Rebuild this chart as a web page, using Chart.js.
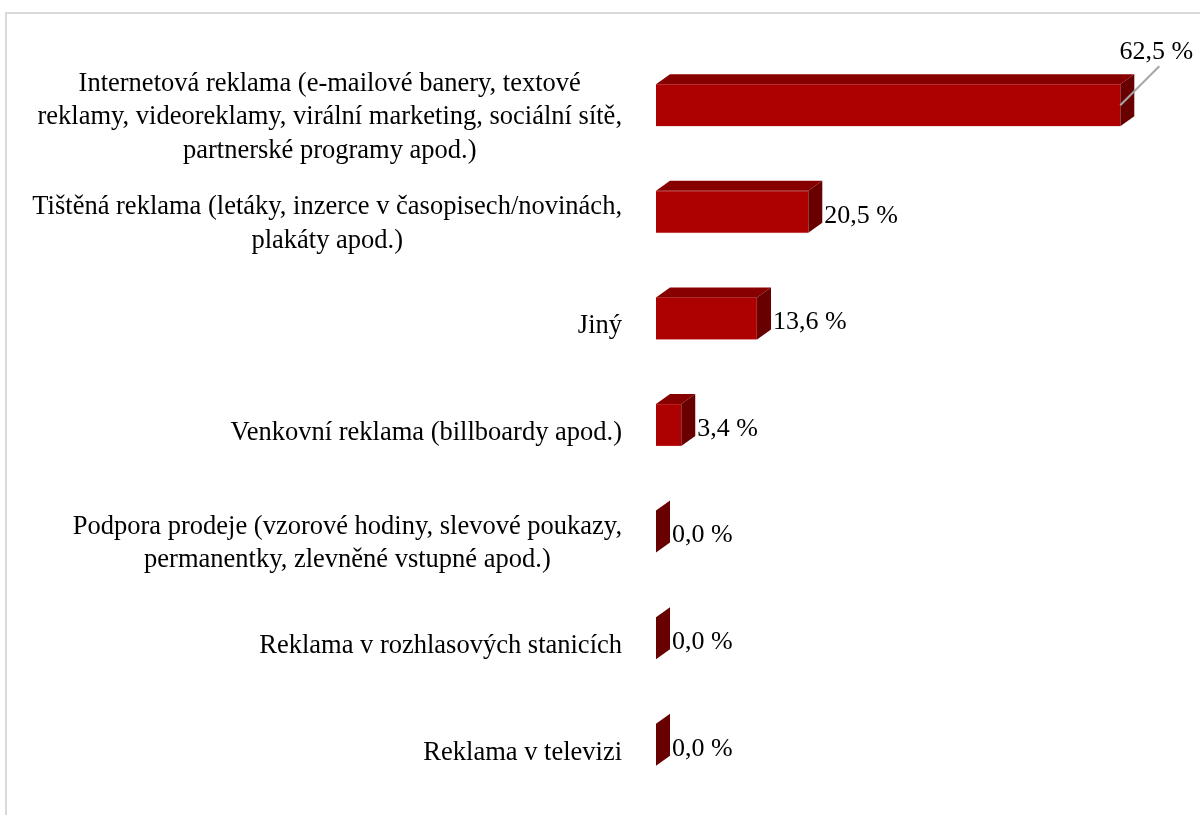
<!DOCTYPE html>
<html>
<head>
<meta charset="utf-8">
<script src="https://cdn.jsdelivr.net/npm/chart.js@4.4.1/dist/chart.umd.min.js"></script>
<style>
  html, body { margin: 0; padding: 0; background: #ffffff; overflow: hidden; }
  #frame {
    position: absolute; left: 5px; top: 12px; width: 1300px; height: 900px;
    border: 2px solid #d9d9d9; box-sizing: border-box;
  }
  #wrap { position: absolute; left: 0; top: 0; width: 1200px; height: 815px; }
</style>
</head>
<body>
<div id="frame"></div>
<div id="wrap"><canvas id="chart"></canvas></div>
<script>
// ── Data ─────────────────────────────────────────────────────────
const CATEGORIES = [
    ['Internetová reklama (e-mailové banery, textové', 'reklamy, videoreklamy, virální marketing, sociální sítě,', 'partnerské programy apod.)'],
    ['Tištěná reklama (letáky, inzerce v časopisech/novinách,', 'plakáty apod.)'],
    ['Jiný'],
    ['Venkovní reklama (billboardy apod.)'],
    ['Podpora prodeje (vzorové hodiny, slevové poukazy,', 'permanentky, zlevněné vstupné apod.)'],
    ['Reklama v rozhlasových stanicích'],
    ['Reklama v televizi'],
];
const SHARES = [62.5, 20.5, 13.6, 3.4, 0.0, 0.0, 0.0];

// ── Design tokens ────────────────────────────────────────────────
const FRONT = '#ad0000';
const TOP = '#860000';
const SIDE = '#680000';
const DEPTH_X = 14;
const DEPTH_Y = 10;
const FONT = "'Liberation Serif', 'Times New Roman', serif";
const LABEL_PX = 26.5;
const VALUE_PX = 26;
const LINE_H = 33.5;

const fmtPct = v => v.toFixed(1).replace('.', ',') + ' %';

// 3D faces + value labels
const bar3d = {
    id: 'bar3d',
    afterDatasetsDraw(chart) {
        const ctx = chart.ctx;
        const meta = chart.getDatasetMeta(0);
        ctx.save();
        meta.data.forEach((bar, i) => {
            const { x, y, base, height } = bar.getProps(['x', 'y', 'base', 'height'], true);
            const x0 = base, x1 = x;
            const yt = y - height / 2, yb = y + height / 2;

            // top face
            ctx.fillStyle = TOP;
            ctx.beginPath();
            ctx.moveTo(x0, yt);
            ctx.lineTo(x0 + DEPTH_X, yt - DEPTH_Y);
            ctx.lineTo(x1 + DEPTH_X, yt - DEPTH_Y);
            ctx.lineTo(x1, yt);
            ctx.closePath();
            ctx.fill();

            // side face
            ctx.fillStyle = SIDE;
            ctx.beginPath();
            ctx.moveTo(x1, yt);
            ctx.lineTo(x1 + DEPTH_X, yt - DEPTH_Y);
            ctx.lineTo(x1 + DEPTH_X, yb - DEPTH_Y);
            ctx.lineTo(x1, yb);
            ctx.closePath();
            ctx.fill();

            // value label
            const txt = fmtPct(SHARES[i]);
            ctx.font = `${VALUE_PX}px ${FONT}`;
            ctx.fillStyle = '#000000';
            const w = ctx.measureText(txt).width;
            const lx = x1 + DEPTH_X + 2;
            if (lx + w > chart.width - 4) {
                // no room: put it above-right with a leader line
                const ex = x1 + 39, ey = y - 39;
                ctx.strokeStyle = '#a6a6a6';
                ctx.lineWidth = 2;
                ctx.beginPath();
                ctx.moveTo(x1, y);
                ctx.lineTo(ex, ey);
                ctx.stroke();
                ctx.textAlign = 'center';
                ctx.textBaseline = 'alphabetic';
                ctx.fillText(txt, ex - 3, ey - 7);
            } else {
                ctx.textAlign = 'left';
                ctx.textBaseline = 'middle';
                ctx.fillText(txt, lx, y + 4);
            }
        });
        ctx.restore();
    },
};

// category labels: lines centered, block right-aligned
const catLabels = {
    id: 'catLabels',
    afterDraw(chart) {
        const ctx = chart.ctx;
        const yScale = chart.scales.y;
        const right = 622;
        ctx.save();
        ctx.font = `${LABEL_PX}px ${FONT}`;
        ctx.fillStyle = '#000000';
        ctx.textAlign = 'center';
        ctx.textBaseline = 'middle';
        CATEGORIES.forEach((lines, i) => {
            const maxW = Math.max(...lines.map(l => ctx.measureText(l).width));
            const cx = right - maxW / 2;
            const cy = yScale.getPixelForValue(i) + (lines.length > 1 ? 12 : 8);
            const top = cy - (lines.length - 1) * LINE_H / 2;
            lines.forEach((l, k) => ctx.fillText(l, cx, top + k * LINE_H));
        });
        ctx.restore();
    },
};

new Chart(document.getElementById('chart').getContext('2d'), {
    type: 'bar',
    data: {
        labels: CATEGORIES,
        datasets: [{
            data: SHARES,
            backgroundColor: FRONT,
            borderColor: '#d98080',
            borderWidth: 0.6,
            barThickness: 42,
        }],
    },
    options: {
        indexAxis: 'y',
        responsive: true,
        maintainAspectRatio: false,
        animation: false,
        layout: { padding: { left: 656, right: 24, top: 52, bottom: 17 } },
        plugins: { legend: { display: false }, tooltip: { enabled: false } },
        scales: {
            x: { display: false, min: 0, max: 70 },
            y: { display: false, offset: true, grid: { display: false } },
        },
    },
    plugins: [bar3d, catLabels],
});
</script>
</body>
</html>
